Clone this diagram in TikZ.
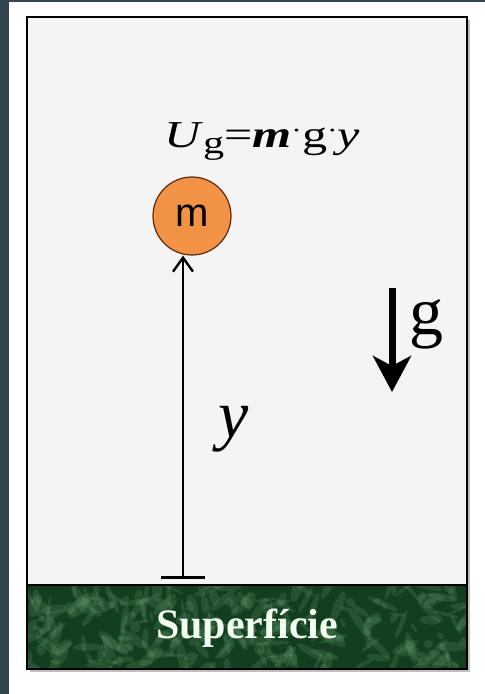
\documentclass[tikz,border=0pt]{standalone}
\usepackage{fontspec}
\setmainfont{Liberation Serif}
\newfontfamily\massfont{Liberation Sans}
\usetikzlibrary{arrows.meta}

\definecolor{slate}{RGB}{51,70,79}
\definecolor{paper}{RGB}{244,244,244}
\definecolor{ball}{RGB}{241,146,68}
\definecolor{ballrim}{RGB}{90,40,20}
\definecolor{grass}{RGB}{20,62,32}
\definecolor{grasslight}{RGB}{130,190,140}

\begin{document}
\begin{tikzpicture}[x=0.5pt, y=-0.5pt,
    heightarrow/.style={line width=1.2pt, {Bar[width=22pt,line width=1.6pt]}-{Straight Barb[length=7pt,width=10pt,line width=1.2pt]}},
    gravarrow/.style={line width=3.5pt, -{Stealth[length=18pt,width=19pt,inset=5pt]}},
    bigsym/.style={font=\fontsize{34}{40}\selectfont}]
  \useasboundingbox (0,0) rectangle (485,694);

  % Page background
  \fill[white] (0,0) rectangle (485,694);
  \fill[slate] (0,0) rectangle (485,2);
  \fill[slate] (0,0) rectangle (9,694);

  % Box with shadow
  \fill[black!25] (30,20) rectangle (470,672);
  \fill[paper] (27,17) rectangle (467,669);

  % Ground surface
  \begin{scope}
    \clip (27,585) rectangle (467,669);
    \fill[grass] (27,585) rectangle (467,669);
    \pgfmathsetseed{11}
    \foreach \i in {1,...,240}{
      \pgfmathsetmacro\px{27+440*rnd}
      \pgfmathsetmacro\py{585+84*rnd}
      \pgfmathsetmacro\ang{180*rnd}
      \pgfmathsetmacro\ra{4+14*rnd}
      \pgfmathsetmacro\rb{1.5+4*rnd}
      \fill[grasslight, opacity=0.16, rotate around={\ang:(\px,\py)}] (\px,\py) ellipse ({\ra} and {\rb});
    }
  \end{scope}
  \draw[line width=1.2pt] (27,585) -- (467,585);
  \draw[line width=1.3pt] (27,17) rectangle (467,669);
  \node[text=white!94!green, font=\fontsize{21}{24}\selectfont\bfseries] (surface) at (247,628) {Superfície};

  % Mass and height
  \node[circle, fill=ball, draw=ballrim, line width=0.6pt, minimum size=39pt, inner sep=0pt,
        font=\massfont\fontsize{20}{22}\selectfont] (mass) at (192,216) {m};
  \coordinate (base) at (183,579);
  \draw[heightarrow] (base) -- (base |- mass.south);
  \node[font=\fontsize{34}{40}\selectfont\itshape, anchor=base] (ylabel) at (234,437) {y};

  % Potential energy
  \node[font=\fontsize{19}{22}\selectfont, anchor=base] (energy) at (262,148)
    {\scalebox{1.32}[1]{\textit{U}\raisebox{-0.3ex}{\fontsize{16}{18}\selectfont g}=\textbf{\textit{m}}\raisebox{0.55ex}{\fontsize{12}{12}\selectfont·}g\raisebox{0.55ex}{\fontsize{12}{12}\selectfont·}\textit{y}}};

  % Gravity
  \coordinate (gtop) at (392,288);
  \coordinate (gbot) at (392,392);
  \draw[gravarrow] (gtop) -- (gbot);
  \node[bigsym, anchor=base] (glabel) at (426,335) {g};
\end{tikzpicture}
\end{document}
